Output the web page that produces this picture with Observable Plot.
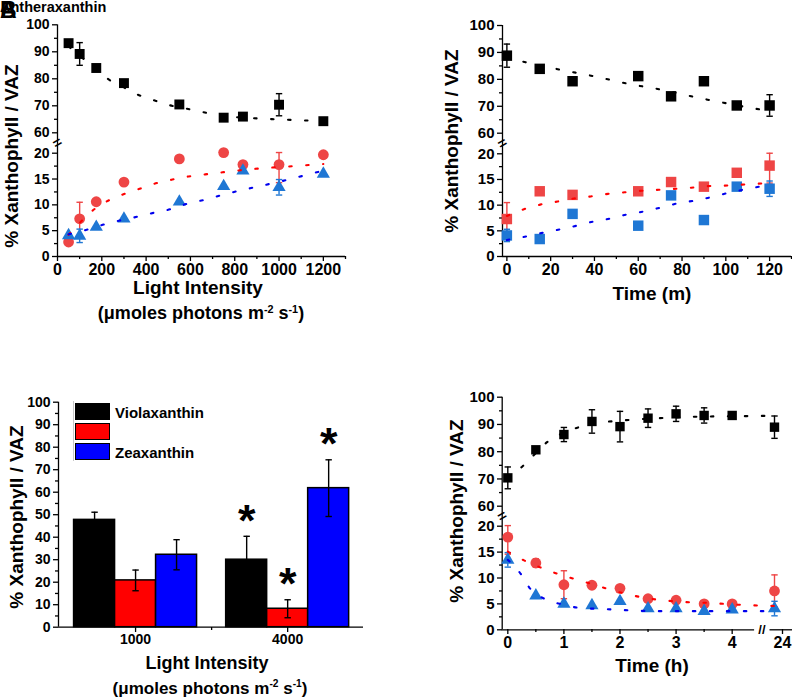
<!DOCTYPE html>
<html>
<head>
<meta charset="utf-8">
<script src="https://cdn.jsdelivr.net/npm/d3@7"></script>
<script src="https://cdn.jsdelivr.net/npm/@observablehq/plot@0.6"></script>
<style>
  html, body { margin: 0; padding: 0; background: #fff; }
  body { position: relative; width: 792px; height: 698px; overflow: hidden;
         font-family: "Liberation Sans", Arial, Helvetica, sans-serif; font-weight: bold; color: #000; }
  .abs { position: absolute; white-space: nowrap; line-height: 1; }
  .c { transform: translate(-50%, -50%); }
  .rot { transform: translate(-50%, -50%) rotate(-90deg); }
  sup { font-size: 0.6em; vertical-align: 0.6em; line-height: 0; }
  .box { position: absolute; width: 33px; height: 15px; border: 1.5px solid #000; }
</style>
</head>
<body>
<script>
const FONT = '"Liberation Sans", Arial, Helvetica, sans-serif';

// ---------- Panel: light intensity (top left) ----------
const lightIntensity = [50, 100, 175, 300, 550, 750, 837, 1000, 1200];
const lightViolaxanthin = [93.2, 89.2, 84.0, 78.4, 70.5, 65.6, 66.0, 70.4, 64.3];
const lightViolaxanthinErr = [null, 4.2, null, null, null, null, null, 4.1, null];
const lightAntheraxanthin = [2.8, 7.3, 10.6, 14.4, 18.9, 21.2, 17.8, 17.8, 19.7];
const lightAntheraxanthinErr = [null, 3.2, null, null, null, null, null, 3.5, null];
const lightZeaxanthin = [4.1, 4.0, 5.7, 7.3, 10.6, 13.6, 16.6, 13.4, 16.0];
const lightZeaxanthinErr = [null, 1.3, null, null, null, null, null, 1.5, null];
// fitted curves
const lightFitViolaX = [50, 100, 175, 222, 300, 360, 430, 507, 585, 660, 735, 885, 1017, 1170, 1200];
const lightFitViolaY = [92.0, 88.5, 83.8, 80.3, 76.8, 74.2, 72.2, 70.2, 68.9, 67.6, 66.4, 65.4, 64.9, 64.4, 64.3];
const lightFitAntheraX = [50, 100, 150, 228, 295, 370, 438, 514, 592, 667, 745, 847, 930, 1035, 1163, 1200];
const lightFitAntheraY = [4.2, 6.5, 8.6, 10.8, 12.0, 13.1, 14.1, 14.85, 15.5, 15.9, 16.3, 16.8, 17.1, 17.4, 17.8, 17.9];
const lightFitZeaX = [50, 100, 150, 210, 285, 360, 438, 514, 592, 667, 743, 817, 900, 1013, 1088, 1170, 1200];
const lightFitZeaY = [4.3, 4.8, 5.4, 6.2, 7.0, 7.7, 8.5, 9.2, 10.3, 11.0, 11.9, 12.7, 13.5, 14.6, 15.4, 16.3, 16.6];

// ---------- Panel: time in minutes (top right) ----------
const timeMin = [0, 15, 30, 60, 75, 90, 105, 120];
const minViolaxanthin = [88.8, 83.9, 79.3, 81.2, 73.7, 79.3, 70.3, 70.3];
const minViolaxanthinErr = [4.3, null, null, null, null, null, null, 4.0];
const minAntheraxanthin = [7.3, 12.7, 12.0, 12.7, 14.5, 13.6, 16.3, 17.7];
const minAntheraxanthinErr = [3.2, null, null, null, null, null, null, 3.4];
const minZeaxanthin = [4.1, 3.4, 8.3, 6.0, 11.9, 7.1, 13.6, 13.2];
const minZeaxanthinErr = [1.2, null, null, null, null, null, null, 1.5];
const minFitViolaX = [0, 8.7, 24.3, 39.5, 55, 71, 84.2, 99, 115.8, 120];
const minFitViolaY = [88.2, 86.3, 83.6, 81.2, 78.4, 76.1, 73.7, 71.3, 68.8, 68.3];
const minFitAntheraX = [0, 7.1, 15.2, 23.1, 30.7, 38.3, 46.2, 53.8, 61.4, 69.4, 84.2, 91.8, 99.4, 107.4, 115, 120];
const minFitAntheraY = [7.9, 9.1, 10.1, 10.7, 11.3, 11.7, 12.2, 12.5, 12.8, 13.0, 13.4, 13.7, 13.8, 14.0, 14.2, 14.3];
const minFitZeaX = [0, 8.7, 16.2, 24.3, 31.9, 39.5, 47.4, 55, 62.9, 71, 78.5, 86.1, 93.7, 101.3, 108.9, 116.5, 120];
const minFitZeaY = [3.2, 3.9, 4.6, 5.3, 6.0, 6.8, 7.4, 8.2, 8.8, 9.6, 10.4, 10.9, 11.6, 12.4, 13.1, 13.7, 14.0];

// ---------- Panel: bars (bottom left) ----------
const barGroups = ["1000", "4000"];
const barSeries = ["Violaxanthin", "Antheraxanthin", "Zeaxanthin"];
const barColors = ["#000000", "#ff0000", "#0000ff"];
const bars1000 = [47.7, 20.8, 32.2];
const bars1000Err = [3.4, 4.6, 6.7];
const bars4000 = [30.0, 8.2, 61.8];
const bars4000Err = [10.4, 4.0, 12.6];
const bars1000Significant = [false, false, false];
const bars4000Significant = [true, true, true];

// ---------- Panel: time in hours (bottom right) ----------
const timeHour = [0, 0.5, 1, 1.5, 2, 2.5, 3, 3.5, 4, 24];
const hourViolaxanthin = [70.4, 80.7, 86.3, 91.1, 89.2, 92.3, 93.9, 93.3, 93.3, 89.0];
const hourViolaxanthinErr = [4.0, null, 2.6, 4.3, 5.6, 3.4, 2.8, 2.8, 0.9, 4.1];
const hourAntheraxanthin = [17.9, 12.9, 8.7, 8.6, 8.0, 6.0, 5.7, 5.0, 5.0, 7.5];
const hourAntheraxanthinErr = [3.3, 0.8, 2.7, null, null, null, null, null, null, 3.1];
const hourZeaxanthin = [13.5, 6.6, 5.0, 4.7, 5.5, 4.1, 4.1, 3.6, 3.9, 4.1];
const hourZeaxanthinErr = [1.4, null, null, null, null, null, null, null, null, 1.4];
const hourFitViolaX = [0, 0.26, 0.5, 0.7, 1, 1.27, 1.5, 2, 2.5, 3, 3.5, 4, 24];
const hourFitViolaY = [70.5, 74.6, 79.5, 83.5, 87.0, 89.0, 90.2, 91.4, 92.1, 92.6, 92.9, 93.0, 93.2];
const hourFitAntheraX = [0, 0.29, 0.59, 0.89, 1.19, 1.48, 1.78, 2.08, 2.38, 2.68, 2.97, 3.27, 3.57, 4.0, 24];
const hourFitAntheraY = [15.1, 13.4, 12.0, 10.8, 9.8, 8.9, 7.9, 7.0, 6.3, 5.8, 5.5, 5.3, 5.2, 4.9, 4.6];
const hourFitZeaX = [0, 0.23, 0.38, 0.65, 0.97, 1.3, 1.6, 1.9, 2.26, 2.79, 3.74, 4.0, 24];
const hourFitZeaY = [13.5, 10.8, 8.2, 6.0, 4.9, 4.2, 4.05, 3.9, 3.7, 3.6, 3.6, 3.6, 3.6];

// ---------- tick labels ----------
const brokenMajorTicks = [0, 5, 10, 15, 20, 60, 70, 80, 90, 100];
const brokenMinorTicks = [2.5, 7.5, 12.5, 17.5, 65, 75, 85, 95];
const barMajorTicks = [0, 10, 20, 30, 40, 50, 60, 70, 80, 90, 100];
const barMinorTicks = [5, 15, 25, 35, 45, 55, 65, 75, 85, 95];
const lightMajorTicks = [0, 200, 400, 600, 800, 1000, 1200];
const lightMinorTicks = [100, 300, 500, 700, 900, 1100, 1300];
const minMajorTicks = [0, 20, 40, 60, 80, 100, 120];
const minMinorTicks = [10, 30, 50, 70, 90, 110, 130];
const hourMajorTicks = [0, 1, 2, 3, 4];
const hourLateTicks = [24];
const hourMinorTicks = [0.5, 1.5, 2.5, 3.5];

// ---------- scale layout (not data) ----------
const brokenDomain = [0, 20, 60, 100];
const hourDomain = [-0.1, 4.53, 23.8, 24.4];
const groupStep = 3.71;

// ---------- helpers ----------
const COLORS = {black: "#000000", red: "#ee4545", blue: "#1f77d4", fitRed: "#ff0000", fitBlue: "#0000ee"};
function rows(xs, ys, es) { return xs.map((x, i) => ({x, y: ys[i], e: es ? es[i] : null})); }
const capSymbol = { draw(ctx) { ctx.moveTo(-3.2, 0); ctx.lineTo(3.2, 0); } };

function errorBars(data, color, sw = 1.4) {
  const d = data.filter(r => r.e != null);
  return [
    Plot.ruleX(d, {x: "x", y1: r => r.y - r.e, y2: r => r.y + r.e, stroke: color, strokeWidth: sw}),
    Plot.dot(d, {x: "x", y: r => r.y + r.e, symbol: capSymbol, stroke: color, fill: "none", strokeWidth: sw}),
    Plot.dot(d, {x: "x", y: r => r.y - r.e, symbol: capSymbol, stroke: color, fill: "none", strokeWidth: sw})
  ];
}
function markers(data, symbol, color, r) {
  return Plot.dot(data, {x: "x", y: "y", symbol, fill: color, r, stroke: "none"});
}
function fit(xs, ys, color) {
  return Plot.line(rows(xs, ys), {x: "x", y: "y", stroke: color, strokeWidth: 2.1,
    strokeDasharray: "2.5 14.5", strokeLinecap: "round", curve: "monotone-x"});
}
function yAxes(major, minor, fontSize, xMin, yExtent) {
  return [
    Plot.ruleX([xMin], {y1: yExtent[0], y2: yExtent[1], stroke: "black", strokeWidth: 1.3}),
    Plot.axisY({ticks: major, tickSize: 5, tickPadding: 3, fontSize, label: null, strokeWidth: 1.3, tickFormat: d => String(d)}),
    Plot.axisY({ticks: minor, tickSize: 3, tickFormat: () => "", label: null, strokeWidth: 1.3})
  ];
}
function xAxes(major, minor, fontSize, fmt = d => String(d)) {
  return [
    Plot.axisX({ticks: major, tickSize: 5, tickPadding: 2, fontSize, label: null, strokeWidth: 1.3, tickFormat: fmt}),
    Plot.axisX({ticks: minor, tickSize: 3, tickFormat: () => "", label: null, strokeWidth: 1.3})
  ];
}
function breakMarkY(xMin, yMid) {
  return Plot.text(["="], {x: () => xMin, y: () => yMid, text: d => d, rotate: -30, fontSize: 15, fill: "black"});
}
const baseStyle = {fontFamily: FONT, fontWeight: "bold", fontSize: "13px", color: "black", background: "white", overflow: "visible"};

function place(node, left, top) {
  node.style.position = "absolute";
  node.style.left = left + "px";
  node.style.top = top + "px";
  document.body.appendChild(node);
}

// ---------- Top left ----------
{
  const V = rows(lightIntensity, lightViolaxanthin, lightViolaxanthinErr);
  const A = rows(lightIntensity, lightAntheraxanthin, lightAntheraxanthinErr);
  const Z = rows(lightIntensity, lightZeaxanthin, lightZeaxanthinErr);
  const xDom = [0, 1300];
  const p = Plot.plot({
    width: 396, height: 330, marginLeft: 57, marginRight: 51, marginTop: 24, marginBottom: 74,
    x: {type: "linear", domain: xDom},
    y: {type: "linear", domain: brokenDomain, range: [256, 152.7, 132.3, 24.3]},
    style: baseStyle,
    marks: [
      ...yAxes(brokenMajorTicks, brokenMinorTicks, 14, xDom[0], [0, 100]),
      Plot.ruleY([0], {x1: xDom[0], x2: xDom[1], stroke: "black", strokeWidth: 1.3}),
      ...xAxes(lightMajorTicks, lightMinorTicks, 16),
      breakMarkY(xDom[0], 40),
      ...errorBars(V, COLORS.black), ...errorBars(A, COLORS.red), ...errorBars(Z, COLORS.blue),
      markers(V, "square", COLORS.black, 5.6),
      markers(A, "circle", COLORS.red, 5.4),
      markers(Z, "triangle", COLORS.blue, 4.9),
      fit(lightFitViolaX, lightFitViolaY, COLORS.black),
      fit(lightFitAntheraX, lightFitAntheraY, COLORS.fitRed),
      fit(lightFitZeaX, lightFitZeaY, COLORS.fitBlue)
    ]
  });
  place(p, 0, 0);
}

// ---------- Top right ----------
{
  const V = rows(timeMin, minViolaxanthin, minViolaxanthinErr);
  const A = rows(timeMin, minAntheraxanthin, minAntheraxanthinErr);
  const Z = rows(timeMin, minZeaxanthin, minZeaxanthinErr);
  const xDom = [-2, 130];
  const p = Plot.plot({
    width: 392, height: 330, marginLeft: 102, marginRight: 1, marginTop: 25, marginBottom: 74,
    x: {type: "linear", domain: xDom},
    y: {type: "linear", domain: brokenDomain, range: [256, 153.3, 132.7, 25]},
    style: baseStyle,
    marks: [
      ...yAxes(brokenMajorTicks, brokenMinorTicks, 15, xDom[0], [0, 100]),
      Plot.ruleY([0], {x1: xDom[0], x2: xDom[1], stroke: "black", strokeWidth: 1.3}),
      ...xAxes(minMajorTicks, minMinorTicks, 16),
      breakMarkY(xDom[0], 40),
      ...errorBars(V, COLORS.black), ...errorBars(A, COLORS.red), ...errorBars(Z, COLORS.blue),
      markers(V, "square", COLORS.black, 5.9),
      markers(A, "square", COLORS.red, 5.9),
      markers(Z, "square", COLORS.blue, 5.9),
      fit(minFitViolaX, minFitViolaY, COLORS.black),
      fit(minFitAntheraX, minFitAntheraY, COLORS.fitRed),
      fit(minFitZeaX, minFitZeaY, COLORS.fitBlue)
    ]
  });
  place(p, 400, 0);
}

// ---------- Bottom left (bars) ----------
{
  const groupValues = [bars1000, bars4000];
  const groupErrors = [bars1000Err, bars4000Err];
  const groupSig = [bars1000Significant, bars4000Significant];
  const barRows = [];
  barGroups.forEach((g, gi) => barSeries.forEach((s, si) => barRows.push({
    group: g, series: s, pos: gi * groupStep + (si - 1),
    v: groupValues[gi][si], e: groupErrors[gi][si], sig: groupSig[gi][si]
  })));
  const centers = barGroups.map((g, gi) => gi * groupStep);
  const mids = centers.slice(1).map((c, i) => (c + centers[i]) / 2);
  const xDom = [-1.88, groupStep + 1.85];
  const p = Plot.plot({
    width: 396, height: 338, marginLeft: 58, marginRight: 33, marginTop: 42, marginBottom: 71,
    x: {type: "linear", domain: xDom},
    y: {type: "linear", domain: [0, 100], range: [266.7, 41.7]},
    color: {domain: barSeries, range: barColors},
    style: baseStyle,
    marks: [
      Plot.rectY(barRows, {x1: d => d.pos - 0.5, x2: d => d.pos + 0.5, y1: 0, y2: "v", fill: "series", stroke: "black", strokeWidth: 1.5}),
      Plot.ruleX(barRows, {x: "pos", y1: d => d.v - d.e, y2: d => d.v + d.e, stroke: "black", strokeWidth: 1.4}),
      Plot.dot(barRows, {x: "pos", y: d => d.v + d.e, symbol: capSymbol, stroke: "black", fill: "none", strokeWidth: 1.4}),
      Plot.dot(barRows, {x: "pos", y: d => d.v - d.e, symbol: capSymbol, stroke: "black", fill: "none", strokeWidth: 1.4}),
      Plot.text(barRows.filter(d => d.sig), {x: "pos", y: d => d.v + d.e, text: () => "*", fontSize: 45, fontWeight: "bold", dy: -15, fill: "black"}),
      ...yAxes(barMajorTicks, barMinorTicks, 14, xDom[0], [0, 100]),
      Plot.ruleY([0], {x1: xDom[0], x2: xDom[1], stroke: "black", strokeWidth: 1.3}),
      ...xAxes(centers, mids, 14, d => barGroups[Math.round(d / groupStep)])
    ]
  });
  place(p, 0, 360);
}

// ---------- Bottom right ----------
{
  const V = rows(timeHour, hourViolaxanthin, hourViolaxanthinErr);
  const A = rows(timeHour, hourAntheraxanthin, hourAntheraxanthinErr);
  const Z = rows(timeHour, hourZeaxanthin, hourZeaxanthinErr);
  const p = Plot.plot({
    width: 392, height: 338, marginLeft: 102, marginRight: 0, marginTop: 37, marginBottom: 69,
    x: {type: "linear", domain: hourDomain, range: [101.7, 361.4, 365, 392]},
    y: {type: "linear", domain: brokenDomain, range: [269.3, 165.7, 145.7, 36.7]},
    style: baseStyle,
    marks: [
      ...yAxes(brokenMajorTicks, brokenMinorTicks, 15, hourDomain[0], [0, 100]),
      Plot.ruleY([0], {x1: hourDomain[0], x2: 4.4, stroke: "black", strokeWidth: 1.3}),
      Plot.ruleY([0], {x1: 23.9, x2: hourDomain[3], stroke: "black", strokeWidth: 1.3}),
      Plot.text(["//"], {x: () => hourDomain[1], y: () => 0, text: d => d, fontSize: 13, fill: "black"}),
      ...xAxes(hourMajorTicks, hourMinorTicks, 16),
      Plot.axisX({ticks: hourLateTicks, tickSize: 5, tickPadding: 2, fontSize: 16, label: null, strokeWidth: 1.3, dx: 8, tickFormat: d => String(d)}),
      breakMarkY(hourDomain[0], 40),
      ...errorBars(V, COLORS.black), ...errorBars(A, COLORS.red), ...errorBars(Z, COLORS.blue),
      markers(V, "square", COLORS.black, 5.3),
      markers(A, "circle", COLORS.red, 5.4),
      markers(Z, "triangle", COLORS.blue, 4.9),
      fit(hourFitViolaX, hourFitViolaY, COLORS.black),
      fit(hourFitAntheraX, hourFitAntheraY, COLORS.fitRed),
      fit(hourFitZeaX, hourFitZeaY, COLORS.fitBlue)
    ]
  });
  place(p, 400, 360);
}

// ---------- text around the panels ----------
function addText(html, x, y, size, cls) {
  const d = document.createElement("div");
  d.className = "abs " + cls;
  d.style.left = x + "px"; d.style.top = y + "px"; d.style.fontSize = size + "px";
  d.innerHTML = html;
  document.body.appendChild(d);
  return d;
}
const yTitle = "% Xanthophyll / VAZ";
const lightTitle = "Light Intensity";
const unitTitle = "(\u03BCmoles photons m<sup>-2</sup> s<sup>-1</sup>)";
addText(yTitle, 11, 156, 19, "rot");
addText(yTitle, 451, 141, 19, "rot");
addText(yTitle, 16, 517, 19, "rot");
addText(yTitle, 456, 511, 19, "rot");
addText(lightTitle, 198, 287, 19, "c");
addText(unitTitle, 201, 313, 18, "c");
addText("Time (m)", 652, 293, 19, "c");
addText(lightTitle, 207, 663, 18, "c");
addText(unitTitle, 210, 688, 17, "c");
addText("Time (h)", 652, 665, 19, "c");

// legend of the bar panel (Antheraxanthin label sits at the figure's top left)
{
  const legendTop = [402.7, 422.7, 442.7];
  const frame = document.createElement("div");
  frame.style.cssText = "position:absolute;left:73px;top:401px;width:0;height:60px;border-left:1px solid #c8c8c8";
  document.body.appendChild(frame);
  barSeries.forEach((s, i) => {
    const b = document.createElement("div");
    b.className = "box";
    b.style.left = "75px"; b.style.top = legendTop[i] + "px"; b.style.background = barColors[i];
    document.body.appendChild(b);
    if (s !== "Antheraxanthin") addText(s, 115, legendTop[i] + 9.5, 15, "c").style.transform = "translate(0,-50%)";
  });
  addText("Antheraxanthin", 0, 0, 14.5, "");
  addText("B", 0, -1.5, 23, "");
  addText("A", 0, -1.5, 23, "");
}
</script>
</body>
</html>
